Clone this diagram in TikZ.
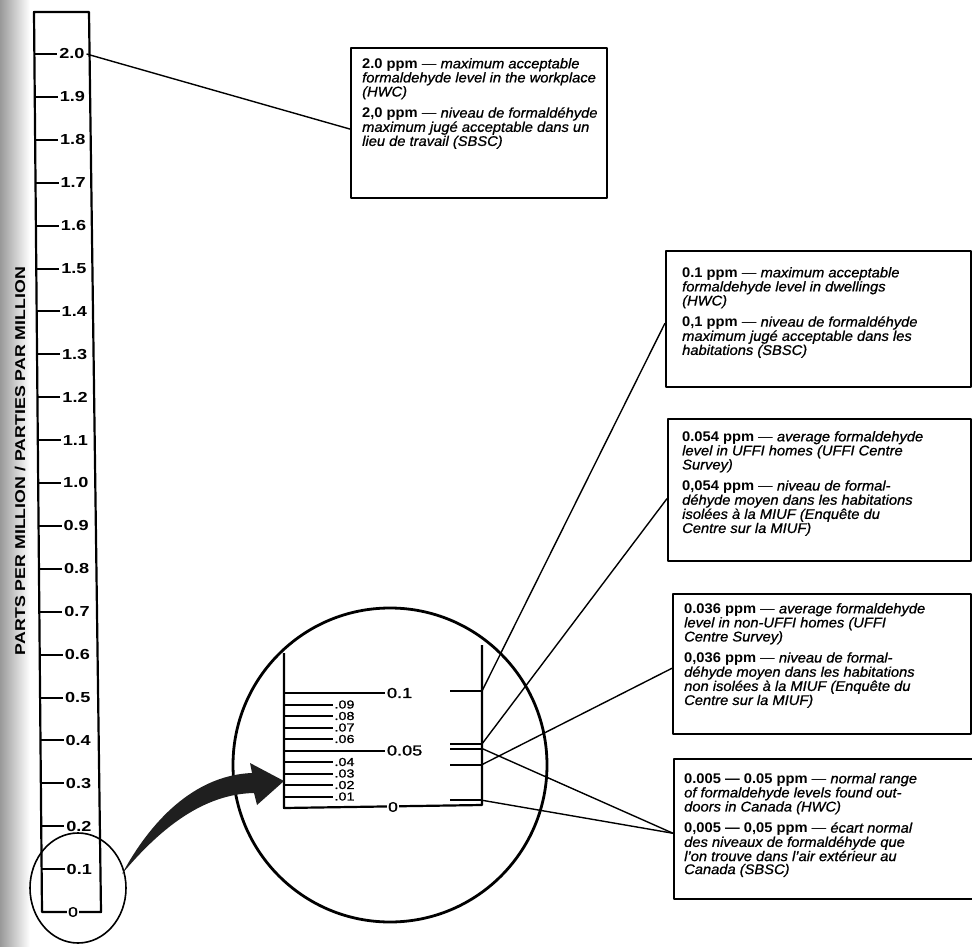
\documentclass[tikz,border=0pt]{standalone}
\usepackage{fontspec}
\setmainfont[FakeStretch=1.05, ItalicFeatures={FakeBold=0.9}]{Liberation Sans}
\newfontfamily\rulerfont[FakeStretch=1.25, UprightFeatures={FakeBold=1.2}]{Liberation Sans}
\usetikzlibrary{calc}

\newcommand{\lvl}[1]{{\upshape\bfseries #1}~\textup{—} }

\tikzset{
  rulerline/.style={line width=2.2pt},
  rulertick/.style={line width=2pt},
  leader/.style={line width=1.4pt},
  infobox/.style={draw, line width=2pt, inner sep=0pt, anchor=north west},
  infotext/.style={anchor=north west, inner sep=0pt, align=left,
    font=\fontsize{14}{13}\selectfont\itshape},
  bignum/.style={anchor=west, inner sep=1pt, font=\rulerfont\fontsize{14.5}{15}\selectfont\bfseries},
  midnum/.style={anchor=west, inner sep=1pt, font=\rulerfont\fontsize{14.5}{15}\selectfont},
  smallnum/.style={anchor=west, inner sep=0.5pt, font=\rulerfont\fontsize{11.5}{11}\selectfont},
}

\begin{document}
\begin{tikzpicture}[x=1pt, y=-1pt, line join=round]
    \useasboundingbox (0,0) rectangle (972,947);
    \clip (0,0) rectangle (972,947);

    % page gutter of the scan
    \shade[left color=black!40, right color=white] (0,0) rectangle (30,947);

    % main ruler, 0 to 2.0 ppm
    \coordinate (lt) at (34,12);
    \coordinate (lb) at (42,912);
    \coordinate (rb) at (101,912);
    \coordinate (rt) at (89,12);
    \draw[rulerline] (lt) -- (lb) -- (rb) -- (rt) -- cycle;
    \node[fill=white, inner sep=1pt, font=\rulerfont\fontsize{14}{14}\selectfont] (s0) at (73,912) {0};

    \foreach \i in {1,...,20} {
      \pgfmathsetmacro{\ty}{912-42.9*\i}   % units of px
      \pgfmathsetmacro{\tx}{34+0.009*(\ty-12)}
      \pgfmathsetmacro{\tv}{\i/10}
      \draw[rulertick] (\tx,\ty) -- ++(23,0)
        node[bignum] (s\i) {\pgfmathprintnumber[fixed,fixed zerofill,precision=1,assume math mode=true]{\tv}};
    }

    \node[rotate=90, font=\rulerfont\bfseries] (axis) at (20,461)
      {\resizebox{388pt}{!}{PARTS PER MILLION / PARTIES PAR MILLION}};

    % circles
    \draw[line width=1.6pt] (78,888) ellipse [x radius=48, y radius=55];
    \draw[line width=2.8pt] (390,765) circle [radius=157];

    % magnified ruler, 0 to 0.1 ppm
    \coordinate (mlt) at (284,653);
    \coordinate (mlb) at (284,808);
    \coordinate (mrb) at (482,805);
    \coordinate (mrt) at (482,645);
    \draw[rulerline] (mlt) -- (mlb) -- (mrb) -- (mrt);
    \node[fill=white, inner sep=1pt, font=\rulerfont\fontsize{14}{14}\selectfont] (m0) at (393,807) {0};

    \draw[rulertick] (284,693) -- (385,693) node[midnum] (m10) {0.1};
    \draw[rulertick] (284,750.5) -- (385,750.5) node[midnum] (m05) {0.05};
    \foreach \v in {1,2,3,4,6,7,8,9} {
      \pgfmathsetmacro{\ty}{808-11.5*\v}
      \draw[rulertick] (284,\ty) -- (333,\ty) node[smallnum] (m0\v) {.0\v};
    }

    % marks on the right side of the magnified ruler
    \foreach \name/\v in {r100/0.1, r054/0.054, r050/0.05, r036/0.036, r005/0.005} {
      \pgfmathsetmacro{\ty}{806-1150*\v}
      \coordinate (\name) at (482,\ty);
      \draw[rulertick] (450,\ty) -- (\name);
    }

    % black arrow
    \coordinate (arrtail) at (122,874);
    \coordinate (arrtip) at (284,781);
    \fill[black!88] (arrtail) .. controls (155,813) and (200,775) .. (252,773)
      -- (250,763) -- (arrtip) -- (257,805) -- (254,793)
      .. controls (205,794) and (162,826) .. (arrtail) -- cycle;

    % boxes
    \node[infobox, minimum width=256pt, minimum height=150pt] (b1) at (350,47) {};
    \node[infobox, minimum width=305pt, minimum height=136pt] (b2) at (665,250) {};
    \node[infobox, minimum width=303pt, minimum height=142pt] (b3) at (667,418) {};
    \node[infobox, minimum width=298pt, minimum height=140pt] (b4) at (672,593) {};
    \node[infobox, minimum width=310pt, minimum height=140pt] (b5) at (673,758) {};

    \node[infotext] (t1) at ($(b1.north west)+(12,11)$) {\lvl{2.0 ppm}maximum acceptable\\
      formaldehyde level in the workplace\\
      (HWC)\\[7pt]
      \lvl{2,0 ppm}niveau de formaldéhyde\\
      maximum jugé acceptable dans un\\
      lieu de travail (SBSC)};
    \node[infotext] (t2) at ($(b2.north west)+(17,17)$) {\lvl{0.1 ppm}maximum acceptable\\
      formaldehyde level in dwellings\\
      (HWC)\\[7pt]
      \lvl{0,1 ppm}niveau de formaldéhyde\\
      maximum jugé acceptable dans les\\
      habitations (SBSC)};
    \node[infotext] (t3) at ($(b3.north west)+(15,13)$) {\lvl{0.054 ppm}average formaldehyde\\
      level in UFFI homes (UFFI Centre\\
      Survey)\\[7pt]
      \lvl{0,054 ppm}niveau de formal-\\
      déhyde moyen dans les habitations\\
      isolées à la MIUF (Enquête du\\
      Centre sur la MIUF)};
    \node[infotext] (t4) at ($(b4.north west)+(12,10)$) {\lvl{0.036 ppm}average formaldehyde\\
      level in non-UFFI homes (UFFI\\
      Centre Survey)\\[7pt]
      \lvl{0,036 ppm}niveau de formal-\\
      déhyde moyen dans les habitations\\
      non isolées à la MIUF (Enquête du\\
      Centre sur la MIUF)};
    \node[infotext] (t5) at ($(b5.north west)+(11,15)$) {\lvl{0.005 — 0.05 ppm}normal range\\
      of formaldehyde levels found out-\\
      doors in Canada (HWC)\\[7pt]
      \lvl{0,005 — 0,05 ppm}écart normal\\
      des niveaux de formaldéhyde que\\
      l'on trouve dans l'air extérieur au\\
      Canada (SBSC)};

    % leaders
    \draw[leader] (s20.east) -- ($(b1.north west)!0.54!(b1.south west)$);
    \draw[leader] (r100) -- ($(b2.north west)!0.53!(b2.south west)$);
    \draw[leader] (r054) -- ($(b3.north west)!0.56!(b3.south west)$);
    \draw[leader] (r036) -- ($(b4.north west)!0.53!(b4.south west)$);
    \draw[leader] (r050) -- ($(b5.north west)!0.53!(b5.south west)$);
    \draw[leader] (r005) -- ($(b5.north west)!0.53!(b5.south west)$);
\end{tikzpicture}
\end{document}
